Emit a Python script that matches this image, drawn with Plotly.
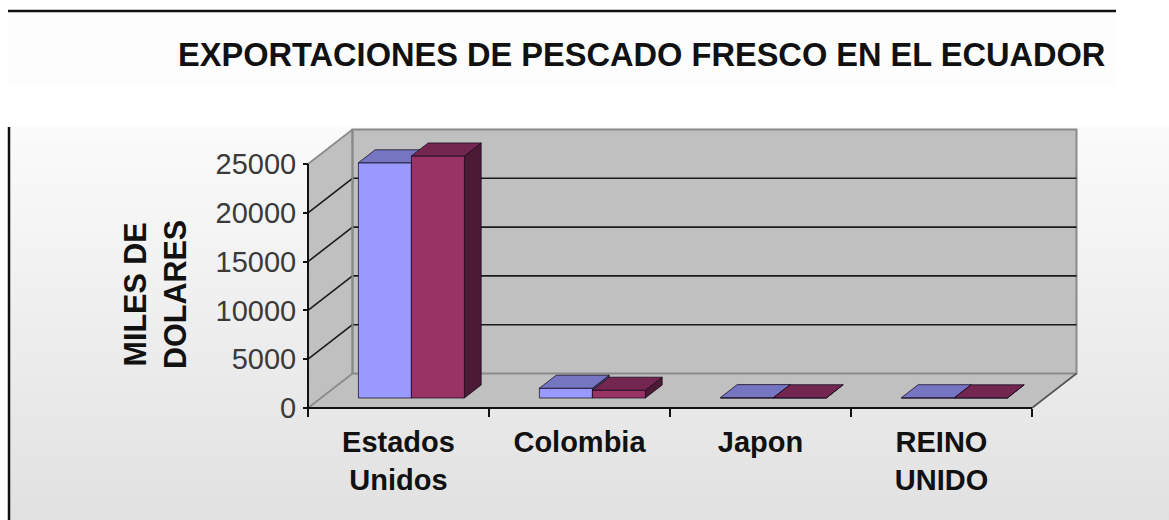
import plotly.graph_objects as go

# Export values in thousands of dollars, two series per destination
categorias = ["Estados<br>Unidos", "Colombia", "Japon", "REINO<br>UNIDO"]
serie_1 = [24100, 1000, 40, 30]
serie_2 = [24800, 800, 30, 20]
ticks_y = [0, 5000, 10000, 15000, 20000, 25000]
titulo = "EXPORTACIONES DE PESCADO FRESCO EN EL ECUADOR"
titulo_y = "MILES DE<br>DOLARES"

W, H = 1169, 520
FONT = "Liberation Sans, Arial, sans-serif"

# Front plane of the axes on the canvas
X0, BAND = 308.0, 181.0
Y0, PX_PER_UNIT = 408.0, 48.8 / 5000
VMAX = ticks_y[-1]
N = len(categorias)

# Oblique projection: one unit of depth moves up and to the right
DX = 44.5 / BAND
DY = 34.5 / PX_PER_UNIT
BAR_W = 53 / BAND
BAR_Z0, BAR_Z1 = 0.29, 0.667
GAP = (1 - 2 * BAR_W) / 2


def proj(x, v, z=0.0):
    return x + z * DX, v + z * DY


def data_x(px):
    return (px - X0) / BAND


def data_y(py):
    return (Y0 - py) / PX_PER_UNIT


fig = go.Figure()


def poly(points, fill, line="rgba(0,0,0,0)", width=1):
    xs, ys = zip(*(proj(*p) for p in points + [points[0]]))
    fig.add_trace(go.Scatter(x=xs, y=ys, mode="lines", fill="toself", fillcolor=fill,
                             line=dict(color=line, width=width), hoverinfo="skip"))


def seg(a, b, color, width=1.6):
    xs, ys = zip(proj(*a), proj(*b))
    fig.add_trace(go.Scatter(x=xs, y=ys, mode="lines", line=dict(color=color, width=width),
                             hoverinfo="skip"))


# Page background: vertical gradient under the chart
fig.add_trace(go.Scatter(
    x=[data_x(9), data_x(W), data_x(W), data_x(9), data_x(9)],
    y=[data_y(127), data_y(127), data_y(H), data_y(H), data_y(127)],
    mode="lines", line=dict(width=0), fill="toself", hoverinfo="skip",
    fillgradient=dict(type="vertical", colorscale=[[0, "#e1e1e1"], [1, "#fbfbfb"]]),
))

# Walls and floor of the box
GREY = "#c0c0c0"
EDGE = "#8a8a8a"
poly([(0, 0, 0), (0, VMAX, 0), (0, VMAX, 1), (0, 0, 1)], GREY)
poly([(0, 0, 0), (N, 0, 0), (N, 0, 1), (0, 0, 1)], GREY)
poly([(0, 0, 1), (N, 0, 1), (N, VMAX, 1), (0, VMAX, 1)], GREY, EDGE, 2)

# Gridlines run along the side wall and across the back wall
for v in ticks_y:
    col = "#1a1a1a" if 0 < v < VMAX else EDGE
    seg((0, v, 0), (0, v, 1), col)
    if 0 < v < VMAX:
        seg((0, v, 1), (N, v, 1), "#1a1a1a")
seg((N, 0, 0), (N, 0, 1), "#555555")
seg((0, 0, 1), (0, VMAX, 1), EDGE, 2)


def bar(x, v, front, top, side):
    edge = "rgba(20,10,30,0.75)"
    a, b = x, x + BAR_W
    z0, z1 = BAR_Z0, BAR_Z1
    poly([(b, 0, z0), (b, 0, z1), (b, v, z1), (b, v, z0)], side, edge)
    poly([(a, 0, z0), (b, 0, z0), (b, v, z0), (a, v, z0)], front, edge)
    poly([(a, v, z0), (b, v, z0), (b, v, z1), (a, v, z1)], top, edge)


# Each destination gets a pair of bars, back to front from left to right
for i in range(N):
    x = i + GAP
    bar(x, serie_1[i], "#9999ff", "#7575c2", "#4c4c80")
    bar(x + BAR_W, serie_2[i], "#993366", "#732650", "#4d1a33")

# Axis lines on the front plane
seg((0, 0), (N, 0), "#111111", 2)
seg((0, 0), (0, VMAX), "#111111", 2)

fig.update_layout(
    width=W, height=H, margin=dict(l=0, r=0, t=0, b=0),
    paper_bgcolor="#ffffff", plot_bgcolor="rgba(0,0,0,0)",
    showlegend=False, hovermode=False,
    xaxis=dict(
        domain=[0, 1], range=[data_x(0), data_x(W)], anchor="free", position=(H - Y0) / H,
        tickmode="array", tickvals=[i + 0.5 for i in range(N)], ticktext=categorias,
        ticks="outside", ticklen=8, tickcolor="rgba(0,0,0,0)", tickwidth=1,
        tickfont=dict(family=FONT, size=29, color="#111111", weight="bold"),
        tickangle=0, showgrid=False, zeroline=False, showline=False,
        minor=dict(tickmode="array", tickvals=list(range(N + 1)), ticks="outside",
                   ticklen=8, tickcolor="#111111", tickwidth=2, showgrid=False),
    ),
    yaxis=dict(
        domain=[0, 1], range=[data_y(H), data_y(0)], anchor="free", position=X0 / W,
        tickmode="array", tickvals=ticks_y, ticktext=[str(v) for v in ticks_y],
        ticks="outside", ticklen=5, tickcolor="#111111", tickwidth=2,
        ticklabelstandoff=1,
        tickfont=dict(family=FONT, size=29, color="#3a3a3a"),
        showgrid=False, zeroline=False, showline=False,
    ),
    shapes=[
        # Header band, rule above it and rule down the left side
        dict(type="rect", xref="paper", yref="paper", x0=8 / W, x1=1116 / W,
             y0=1 - 85 / H, y1=1 - 12 / H, fillcolor="#fdfdfd", line=dict(width=0), layer="below"),
        dict(type="line", xref="paper", yref="paper", x0=8 / W, x1=1116 / W,
             y0=1 - 11 / H, y1=1 - 11 / H, line=dict(color="#111111", width=2.5)),
        dict(type="line", xref="paper", yref="paper", x0=9 / W, x1=9 / W,
             y0=1 - 127 / H, y1=0, line=dict(color="#111111", width=2.5)),
    ],
    annotations=[
        dict(text=titulo, xref="paper", yref="paper", x=641 / W, y=1 - 55 / H,
             xanchor="center", yanchor="middle", showarrow=False,
             font=dict(family=FONT, size=32.6, color="#111111", weight="bold")),
        dict(text=titulo_y, xref="paper", yref="paper", x=155 / W, y=1 - 294 / H,
             xanchor="center", yanchor="middle", showarrow=False, textangle=-90,
             font=dict(family=FONT, size=30.5, color="#111111", weight="bold")),
    ],
)

fig.write_html("out.html")
